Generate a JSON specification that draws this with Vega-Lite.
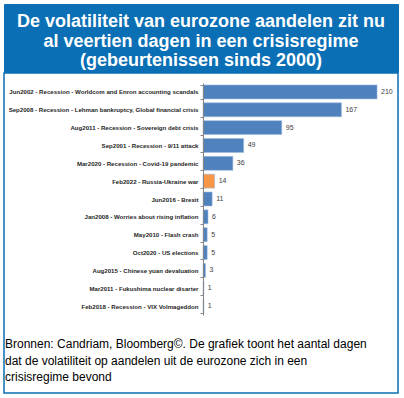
{
  "$schema": "https://vega.github.io/schema/vega-lite/v6.json",
  "padding": {"left": 3, "top": 3, "right": 7, "bottom": 7},
  "background": "white",
  "spacing": -5,
  "config": {"font": "Liberation Sans"},
  "vconcat": [
    {
      "width": 394,
      "height": 68,
      "view": {"fill": "#0A6FB5", "stroke": "#0A6FB5"},
      "data": {"values": [
        {"line": 1, "text": "De volatiliteit van eurozone aandelen zit nu"},
        {"line": 2, "text": "al veertien dagen in een crisisregime"},
        {"line": 3, "text": "(gebeurtenissen sinds 2000)"}
      ]},
      "mark": {"type": "text", "font": "Liberation Sans", "fontWeight": "bold", "fontSize": 18, "color": "white", "baseline": "alphabetic", "align": "center", "clip": true},
      "encoding": {
        "y": {"field": "line", "type": "ordinal", "scale": {"type": "point", "range": [23, 62], "padding": 0}, "axis": null},
        "text": {"field": "text"}
      }
    },
    {
      "width": 394,
      "height": 320,
      "view": {"stroke": "#0A6FB5", "strokeWidth": 1.5},
      "resolve": {"scale": {"y": "independent"}},
      "layer": [
        {
          "data": {"values": [
            {"label": "Jun2002 - Recession - Worldcom and Enron accounting scandals", "days": 210, "type": "normal"},
            {"label": "Sep2008 - Recession - Lehman bankruptcy, Global financial crisis", "days": 167, "type": "normal"},
            {"label": "Aug2011 - Recession - Sovereign debt crisis", "days": 95, "type": "normal"},
            {"label": "Sep2001 - Recession - 9/11 attack", "days": 49, "type": "normal"},
            {"label": "Mar2020 - Recession - Covid-19 pandemic", "days": 36, "type": "normal"},
            {"label": "Feb2022 - Russia-Ukraine war", "days": 14, "type": "highlight"},
            {"label": "Jun2016 - Brexit", "days": 11, "type": "normal"},
            {"label": "Jan2008 - Worries about rising inflation", "days": 6, "type": "normal"},
            {"label": "May2010 - Flash crash", "days": 5, "type": "normal"},
            {"label": "Oct2020 - US elections", "days": 5, "type": "normal"},
            {"label": "Aug2015 - Chinese yuan devaluation", "days": 3, "type": "normal"},
            {"label": "Mar2011 - Fukushima nuclear disarter", "days": 1, "type": "normal"},
            {"label": "Feb2018 - Recession - VIX Volmageddon", "days": 1, "type": "normal"}
          ]},
          "encoding": {
            "y": {
              "field": "label", "type": "nominal", "sort": null,
              "scale": {"range": [10, 242], "paddingInner": 0.22, "paddingOuter": 0.11},
              "axis": {
                "offset": -199, "title": null, "domainColor": "#868686", "tickColor": "#868686",
                "tickSize": 3, "tickBand": "extent", "labelFont": "Liberation Sans", "labelFontWeight": "bold",
                "labelFontSize": 6.1, "labelColor": "#262626", "labelPadding": 2, "labelLimit": 300,
                "domainWidth": 1, "tickWidth": 1, "zindex": 1
              }
            },
            "x": {"field": "days", "type": "quantitative", "scale": {"domain": [-240.2, 235.3], "nice": false, "zero": false}, "axis": null}
          },
          "layer": [
            {
              "mark": {"type": "bar", "stroke": "#9DB9DD", "strokeWidth": 0.6},
              "encoding": {
                "color": {"field": "type", "type": "nominal", "scale": {"domain": ["normal", "highlight"], "range": ["#4F81BD", "#F79646"]}, "legend": null}
              }
            },
            {
              "mark": {"type": "text", "align": "left", "baseline": "middle", "dx": 4, "fontSize": 7, "color": "#404040", "font": "Liberation Sans"},
              "encoding": {"text": {"field": "days", "type": "quantitative"}}
            }
          ]
        },
        {
          "data": {"values": [
            {"line": 1, "note": "Bronnen: Candriam, Bloomberg©. De grafiek toont het aantal dagen"},
            {"line": 2, "note": "dat de volatiliteit op aandelen uit de eurozone zich in een"},
            {"line": 3, "note": "crisisregime bevond"}
          ]},
          "mark": {"type": "text", "align": "left", "baseline": "middle", "dx": 1, "fontSize": 12, "color": "black", "font": "Liberation Sans"},
          "encoding": {
            "x": {"datum": -240.2, "type": "quantitative"},
            "y": {"field": "line", "type": "ordinal", "scale": {"type": "point", "range": [271, 304], "padding": 0}, "axis": null},
            "text": {"field": "note"}
          }
        }
      ]
    }
  ]
}
